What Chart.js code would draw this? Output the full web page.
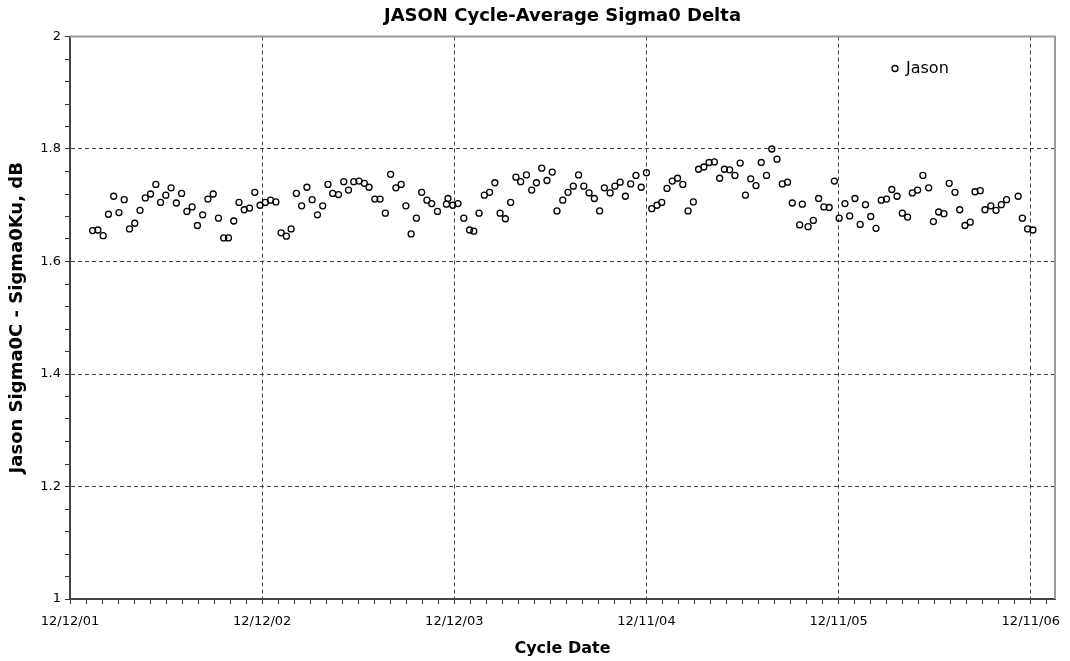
<!DOCTYPE html>
<html>
<head>
<meta charset="utf-8">
<script src="https://cdn.jsdelivr.net/npm/chart.js@4.4.1/dist/chart.umd.min.js"></script>
<style>
  body { margin: 0; background: #fff; }
  #wrap { width: 1070px; height: 661px; }
</style>
</head>
<body>
<div id="wrap"><canvas id="sigmaChart" width="1070" height="661"></canvas></div>
<script>
// days since 12/12/01 for each cycle
const cycleDays = [
  43, 53, 63, 73, 83, 93, 103, 113, 123, 133,
  143, 153, 163, 172, 182, 192, 202, 212, 222, 232,
  242, 252, 262, 272, 282, 292, 301, 311, 321, 331,
  341, 351, 361, 371, 381, 391, 401, 411, 420, 430,
  440, 450, 460, 470, 480, 490, 499, 510, 520, 529,
  539, 549, 559, 568, 579, 589, 599, 609, 619, 629,
  638, 648, 658, 668, 678, 687, 698, 715, 718, 727,
  737, 748, 759, 767, 777, 787, 797, 807, 817, 827,
  837, 847, 856, 867, 877, 886, 896, 906, 916, 925,
  936, 946, 956, 966, 976, 986, 996, 1006, 1015, 1026,
  1035, 1045, 1055, 1065, 1075, 1085, 1095, 1105, 1115, 1124,
  1134, 1144, 1154, 1164, 1174, 1184, 1194, 1204, 1214, 1224,
  1234, 1243, 1253, 1263, 1273, 1283, 1293, 1303, 1313, 1323,
  1333, 1343, 1353, 1363, 1372, 1386, 1391, 1402, 1412, 1422,
  1432, 1442, 1452, 1461, 1472, 1481, 1491, 1501, 1511, 1521,
  1531, 1541, 1551, 1561, 1571, 1581, 1591, 1600, 1610, 1620,
  1631, 1640, 1650, 1660, 1670, 1681, 1690, 1700, 1710, 1719,
  1729, 1738, 1749, 1759, 1769, 1779, 1801, 1809, 1819, 1829
];

const sigmaDelta = [
  1.655, 1.656, 1.646, 1.684, 1.716, 1.687, 1.710, 1.658, 1.668, 1.691,
  1.713, 1.720, 1.737, 1.705, 1.718, 1.731, 1.704, 1.721, 1.689, 1.697,
  1.664, 1.683, 1.711, 1.720, 1.677, 1.642, 1.642, 1.672, 1.705, 1.692,
  1.695, 1.723, 1.700, 1.705, 1.709, 1.706, 1.651, 1.645, 1.658, 1.721,
  1.699, 1.732, 1.710, 1.683, 1.699, 1.737, 1.721, 1.719, 1.742, 1.727,
  1.742, 1.743, 1.739, 1.732, 1.711, 1.711, 1.686, 1.755, 1.731, 1.737,
  1.699, 1.649, 1.677, 1.723, 1.709, 1.703, 1.689, 1.702, 1.712, 1.700,
  1.703, 1.677, 1.656, 1.654, 1.686, 1.718, 1.723, 1.740, 1.686, 1.676,
  1.705, 1.750, 1.742, 1.754, 1.727, 1.740, 1.766, 1.744, 1.759, 1.690,
  1.709, 1.723, 1.734, 1.754, 1.734, 1.722, 1.712, 1.690, 1.731, 1.722,
  1.734, 1.741, 1.716, 1.738, 1.753, 1.732, 1.758, 1.694, 1.700, 1.705,
  1.730, 1.743, 1.748, 1.737, 1.690, 1.706, 1.764, 1.768, 1.776, 1.777,
  1.748, 1.764, 1.763, 1.753, 1.775, 1.718, 1.747, 1.735, 1.776, 1.753,
  1.800, 1.782, 1.738, 1.741, 1.704, 1.665, 1.702, 1.662, 1.673, 1.712,
  1.697, 1.696, 1.743, 1.677, 1.703, 1.681, 1.712, 1.666, 1.701, 1.680,
  1.659, 1.709, 1.711, 1.728, 1.716, 1.686, 1.679, 1.722, 1.727, 1.753,
  1.731, 1.671, 1.688, 1.685, 1.739, 1.723, 1.692, 1.664, 1.670, 1.724,
  1.726, 1.692, 1.699, 1.691, 1.701, 1.710, 1.716, 1.677, 1.658, 1.656
];

const xTickDays = [0, 365, 730, 1095, 1460, 1825];
const xTickLabels = ['12/12/01', '12/12/02', '12/12/03', '12/11/04', '12/11/05', '12/11/06'];
const yTickValues = [1, 1.2, 1.4, 1.6, 1.8, 2];

const FONT = 'DejaVu Sans, Verdana, sans-serif';

// minor ticks: monthly on x, 0.04 on y
const xMinor = [];
for (let k = 0; k * 365 / 12 <= 1871; k++) xMinor.push(k * 365 / 12);
const yMinor = [];
for (let k = 0; k <= 25; k++) yMinor.push(1 + k * 0.04);

function xMajorIndex(v) {
  return xTickDays.findIndex(d => Math.abs(d - v) < 0.01);
}
function yIsMajor(v) {
  return yTickValues.some(t => Math.abs(t - v) < 1e-6);
}

const framePlugin = {
  id: 'frame',
  beforeDatasetsDraw(chart) {
    const { ctx, chartArea: a } = chart;
    ctx.save();
    ctx.strokeStyle = '#9a9a9a';
    ctx.lineWidth = 2;
    ctx.beginPath();
    ctx.moveTo(a.left, a.top);
    ctx.lineTo(a.right, a.top);
    ctx.lineTo(a.right, a.bottom);
    ctx.stroke();
    ctx.restore();
  }
};

const legendPlugin = {
  id: 'innerLegend',
  afterDraw(chart) {
    const { ctx, chartArea: a } = chart;
    const cx = a.right - 160, cy = a.top + 32;
    ctx.save();
    ctx.strokeStyle = '#000';
    ctx.lineWidth = 1.3;
    ctx.beginPath();
    ctx.arc(cx, cy, 3, 0, Math.PI * 2);
    ctx.stroke();
    ctx.fillStyle = '#000';
    ctx.font = '16px ' + FONT;
    ctx.textBaseline = 'middle';
    ctx.fillText('Jason', cx + 11, cy);
    ctx.restore();
  }
};

const ctx = document.getElementById('sigmaChart');
new Chart(ctx, {
  type: 'scatter',
  data: {
    datasets: [{
      label: 'Jason',
      data: cycleDays.map((d, i) => ({ x: d, y: sigmaDelta[i] })),
      pointStyle: 'circle',
      pointRadius: 3,
      pointBorderWidth: 1.3,
      borderColor: '#000',
      backgroundColor: 'transparent',
      showLine: false
    }]
  },
  options: {
    responsive: false,
    animation: false,
    layout: { padding: { left: 0, right: 15, top: 0, bottom: 0 } },
    plugins: {
      legend: { display: false },
      tooltip: { enabled: false },
      title: {
        display: true,
        text: 'JASON Cycle-Average Sigma0 Delta',
        fullSize: false,
        color: '#000',
        font: { family: FONT, size: 18, weight: 'bold' },
        padding: { top: 6, bottom: 8.9 }
      }
    },
    scales: {
      x: {
        type: 'linear',
        min: 0,
        max: 1871,
        afterBuildTicks: s => { s.ticks = xMinor.map(v => ({ value: v })); },
        afterFit: s => { s.height = 62; },
        ticks: {
          autoSkip: false,
          maxRotation: 0,
          color: '#000',
          font: { family: FONT, size: 13 },
          padding: 10,
          callback: v => { const i = xMajorIndex(v); return i >= 0 ? xTickLabels[i] : ''; }
        },
        grid: {
          color: c => (c.tick && xMajorIndex(c.tick.value) > 0) ? '#444' : 'rgba(0,0,0,0)',
          tickColor: '#333',
          tickLength: 5,
          lineWidth: 1
        },
        border: { color: '#444', width: 2, dash: [4, 3] },
        title: {
          display: true,
          text: 'Cycle Date',
          color: '#000',
          font: { family: FONT, size: 16, weight: 'bold' },
          padding: { top: 0, bottom: 3 }
        }
      },
      y: {
        min: 1,
        max: 2,
        afterBuildTicks: s => { s.ticks = yMinor.map(v => ({ value: v })); },
        afterFit: s => { s.width = 70; },
        ticks: {
          autoSkip: false,
          color: '#000',
          font: { family: FONT, size: 13 },
          padding: 4,
          callback: v => yIsMajor(v) ? String(Math.round(v * 10) / 10) : ''
        },
        grid: {
          color: c => (c.tick && yIsMajor(c.tick.value) && c.tick.value > 1.01 && c.tick.value < 1.99) ? '#444' : 'rgba(0,0,0,0)',
          tickColor: '#333',
          tickLength: 5,
          lineWidth: 1
        },
        border: { color: '#444', width: 2, dash: [4, 3] },
        title: {
          display: true,
          text: 'Jason Sigma0C - Sigma0Ku, dB',
          color: '#000',
          font: { family: FONT, size: 18, weight: 'bold' },
          padding: { top: 7, bottom: 0 }
        }
      }
    }
  },
  plugins: [framePlugin, legendPlugin]
});
</script>
</body>
</html>
